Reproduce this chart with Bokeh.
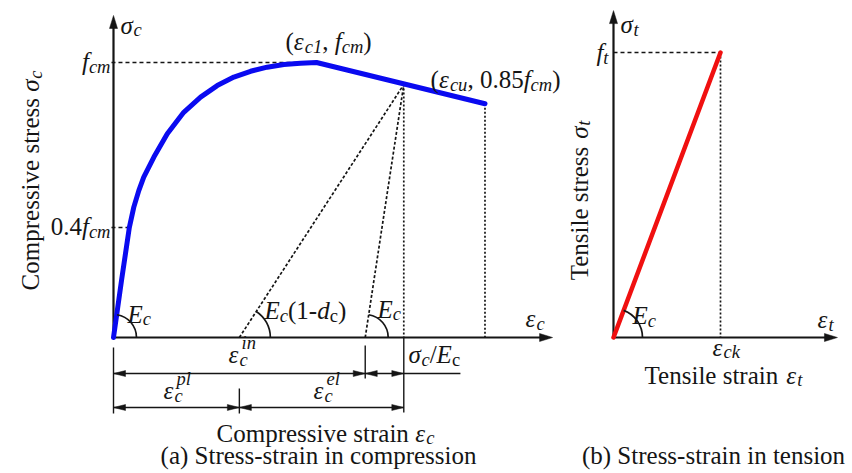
from math import atan2, pi

from bokeh.core.properties import field, value
from bokeh.embed import file_html
from bokeh.models import ColumnDataSource, Range1d
from bokeh.plotting import figure
from bokeh.resources import INLINE

# ---------------------------------------------------------------------------
# Data (strain normalised by eps_c1 / eps_ck, stress normalised by f_cm / f_t)
# ---------------------------------------------------------------------------
comp_strain = [0.0, 0.040, 0.078, 0.100, 0.125, 0.149, 0.199, 0.265, 0.346,
               0.429, 0.511, 0.593, 0.675, 0.757, 0.839, 0.921, 1.0, 1.83]
comp_stress = [0.0, 0.210, 0.40, 0.474, 0.535, 0.583, 0.656, 0.741, 0.819,
               0.874, 0.916, 0.947, 0.968, 0.983, 0.993, 0.997, 1.0, 0.85]

eps_c1, f_cm = 1.0, 1.0          # peak point
eps_cu, sig_cu = 1.83, 0.85      # end of descending branch
stress_ticks = [1.0, 0.4]        # f_cm, 0.4 f_cm
eps_unl, sig_unl = 1.43, 0.92    # unloading point
eps_pl = 0.62                    # plastic strain (damaged unloading)
eps_in = 1.24                    # inelastic strain (undamaged unloading)

tens_strain = [0.0, 1.0]         # 0 .. eps_ck
tens_stress = [0.0, 1.0]         # 0 .. f_t
eps_ck, f_t = 1.0, 1.0

# ---------------------------------------------------------------------------
# Canvas and coordinate systems
# ---------------------------------------------------------------------------
W, H = 852, 473
FS = 25                      # base font size (px)
FONT = "Liberation Serif"
INK = "#151515"
RAISE = 8                    # baseline correction for the SVG text (px)

# pixels per unit and origin position for each panel
SXL, SYL, OXL, OYL = 203.0, 275.0, 113.0, 337.0
SXR, SYR, OXR, OYR = 107.0, 285.0, 613.0, 337.0
SCALE = {"L": (SXL, SYL), "R": (SXR, SYR)}

p = figure(width=W, height=H, output_backend="svg", toolbar_location=None,
           x_axis_type=None, y_axis_type=None, min_border=0,
           outline_line_color=None, background_fill_color="white",
           border_fill_color="white",
           x_range=Range1d(-OXL / SXL, (W - OXL) / SXL),
           y_range=Range1d((OYL - H) / SYL, OYL / SYL))
p.extra_x_ranges = {"tx": Range1d(-OXR / SXR, (W - OXR) / SXR)}
p.extra_y_ranges = {"ty": Range1d((OYR - H) / SYR, OYR / SYR)}


def rng(panel):
    return {} if panel == "L" else {"x_range_name": "tx", "y_range_name": "ty"}


def seg(panel, x0, y0, x1, y1, width=1.5, dash="solid", color=INK):
    p.segment(x0=[x0], y0=[y0], x1=[x1], y1=[y1], line_color=color,
              line_width=width, line_dash=dash, **rng(panel))


def head(panel, x, y, direction, length=12, half=3.0):
    """Filled arrow head whose tip sits at (x, y)."""
    sx, sy = SCALE[panel]
    if direction == "right":
        xs = [x, x - length / sx, x - length / sx]
        ys = [y, y + half / sy, y - half / sy]
    elif direction == "left":
        xs = [x, x + length / sx, x + length / sx]
        ys = [y, y + half / sy, y - half / sy]
    else:  # up
        xs = [x, x - half / sx, x + half / sx]
        ys = [y, y - length / sy, y - length / sy]
    p.patch(xs, ys, fill_color=INK, line_color=INK, line_width=0.5, **rng(panel))


def angle_arc(panel, x, y, r, x_to, y_to):
    sx, sy = SCALE[panel]
    ang = atan2((y_to - y) * sy, (x_to - x) * sx)
    p.arc(x=[x], y=[y], radius=r, radius_units="screen", start_angle=0,
          end_angle=ang, line_color=INK, line_width=1.7, **rng(panel))


# ---------------------------------------------------------------------------
# Math-style labels built from pieces (italic symbols, sub/superscripts)
# ---------------------------------------------------------------------------
REG = {" ": 250, "(": 333, ")": 333, ",": 250, ".": 250, "-": 333, "/": 278,
       "a": 444, "b": 500, "c": 444, "d": 500, "e": 444, "f": 333, "g": 500,
       "h": 500, "i": 278, "k": 500, "l": 278, "m": 778, "n": 500, "o": 500,
       "p": 500, "r": 333, "s": 389, "t": 278, "u": 500, "v": 500,
       "C": 667, "E": 611, "S": 556, "T": 611, "σ": 540, "ε": 440}
ITA = {"a": 500, "c": 444, "d": 500, "e": 444, "f": 278, "i": 278, "k": 444,
       "l": 278, "m": 722, "n": 500, "p": 500, "t": 278, "u": 500, "E": 611,
       "1": 500, "σ": 520, "ε": 440}


def text_w(s, italic, size):
    table = ITA if italic else REG
    return sum(table.get(ch, REG.get(ch, 500)) for ch in s) * size / 1000.0


labels = {"L": {"x": [], "y": [], "text": [], "angle": [], "size": [], "style": []},
          "R": {"x": [], "y": [], "text": [], "angle": [], "size": [], "style": []}}


def mlabel(panel, x, y, parts, align="left", vertical=False, size=FS):
    sx, sy = SCALE[panel]
    laid, pos, last_start = [], 0.0, 0.0
    for txt, ital, role in parts:
        fs = size if role == "n" else size * 0.74
        w = text_w(txt, ital, fs)
        if role == "over":          # superscript stacked above a subscript
            start = last_start + 0.08 * size
            pos = max(pos, start + w)
        else:
            start = pos
            pos += w
        shift = {"n": 0.0, "sub": 0.2 * size, "sup": -0.42 * size,
                 "over": -0.45 * size}[role] - RAISE
        laid.append((txt, ital, fs, start, shift))
        last_start = start
    off = {"left": 0.0, "center": -pos / 2.0, "right": -pos}[align]
    d = labels[panel]
    for txt, ital, fs, start, shift in laid:
        a = start + off
        if vertical:
            d["x"].append(x + shift / sx)
            d["y"].append(y + a / sy)
            d["angle"].append(pi / 2)
        else:
            d["x"].append(x + a / sx)
            d["y"].append(y - shift / sy)
            d["angle"].append(0.0)
        d["text"].append(txt)
        d["size"].append(f"{fs:.1f}px")
        d["style"].append("italic" if ital else "normal")


# ---------------------------------------------------------------------------
# (a) Compression
# ---------------------------------------------------------------------------
L = "L"
y_top_l = 1.171
x_end_l = 2.163
seg(L, 0, 0, 0, y_top_l - 10 / SYL, width=2.2)
head(L, 0, y_top_l, "up", length=13, half=4)
seg(L, 0, 0, x_end_l - 10 / SXL, 0, width=2.2)
head(L, x_end_l, 0, "right", length=13, half=4)

# reference lines to the stress levels
seg(L, -0.01, stress_ticks[0], eps_c1, f_cm, width=1.3, dash="4 3")
seg(L, -0.01, stress_ticks[1], comp_strain[2], comp_stress[2], width=1.3, dash="4 3")

# unloading paths and projections
seg(L, eps_pl, 0, eps_unl, sig_unl, width=1.7, dash="3 2")
seg(L, eps_in, 0, eps_unl, sig_unl, width=1.7, dash="3 2")
seg(L, eps_unl, sig_unl, eps_unl, 0, width=1.7, dash="2 2")
seg(L, eps_cu, sig_cu, eps_cu, 0, width=1.7, dash="2 2")

# stress-strain curve
p.line(comp_strain, comp_stress, line_color="#0a0af0", line_width=5,
       line_join="round", line_cap="round")

# angle marks
angle_arc(L, 0, 0, 23, comp_strain[3], comp_stress[3])
angle_arc(L, eps_pl, 0, 31, eps_unl, sig_unl)
angle_arc(L, eps_in, 0, 23, eps_unl, sig_unl)

# dimension lines under the strain axis
dim1, dim2 = -0.131, -0.2545
seg(L, 0, -0.036, 0, -0.276, width=1.4)
seg(L, eps_in, -0.029, eps_in, -0.149, width=1.4)
seg(L, eps_pl, -0.185, eps_pl, -0.276, width=1.4)
seg(L, eps_unl, 0, eps_unl, -0.273, width=1.4)
seg(L, 0, dim1, 1.709, dim1, width=1.4)
seg(L, 0, dim2, eps_unl, dim2, width=1.4)
for xx, dd in [(0, "left"), (eps_in, "right"), (eps_in, "left"), (eps_unl, "right")]:
    head(L, xx, dim1, dd)
for xx, dd in [(0, "left"), (eps_pl, "right"), (eps_pl, "left"), (eps_unl, "right")]:
    head(L, xx, dim2, dd)

# labels
mlabel(L, 0.034, 1.107, [("σ", True, "n"), ("c", True, "sub")])
mlabel(L, -0.015, f_cm - 7 / SYL, [("f", True, "n"), ("cm", True, "sub")], align="right")
mlabel(L, -0.015, stress_ticks[1] - 7 / SYL,
       [("0.4", False, "n"), ("f", True, "n"), ("cm", True, "sub")], align="right")
mlabel(L, 0.847, 1.047, [("(", False, "n"), ("ε", True, "n"), ("c1", True, "sub"),
                         (", ", False, "n"), ("f", True, "n"), ("cm", True, "sub"),
                         (")", False, "n")])
mlabel(L, 1.562, 0.909, [("(", False, "n"), ("ε", True, "n"), ("cu", True, "sub"),
                         (", 0.85", False, "n"), ("f", True, "n"), ("cm", True, "sub"),
                         (")", False, "n")])
mlabel(L, 0.069, 0.055, [("E", True, "n"), ("c", True, "sub")])
mlabel(L, 0.744, 0.069, [("E", True, "n"), ("c", True, "sub"), ("(1-", False, "n"),
                         ("d", True, "n"), ("c", False, "sub"), (")", False, "n")])
mlabel(L, 1.300, 0.073, [("E", True, "n"), ("c", True, "sub")])
mlabel(L, 2.030, 0.040, [("ε", True, "n"), ("c", True, "sub")])
mlabel(L, 0.567, -0.091, [("ε", True, "n"), ("c", True, "sub"), ("in", True, "over")])
mlabel(L, 0.246, -0.222, [("ε", True, "n"), ("c", True, "sub"), ("pl", True, "over")])
mlabel(L, 0.985, -0.222, [("ε", True, "n"), ("c", True, "sub"), ("el", True, "over")])
mlabel(L, 1.453, -0.091, [("σ", True, "n"), ("c", True, "sub"), ("/", False, "n"),
                          ("E", True, "n"), ("c", False, "sub")])
mlabel(L, -0.369, 0.571, [("Compressive stress ", False, "n"), ("σ", True, "n"),
                          ("c", True, "sub")], align="center", vertical=True)
mlabel(L, 1.044, -0.378, [("Compressive strain ", False, "n"), ("ε", True, "n"),
                          ("c", True, "sub")], align="center")
mlabel(L, 1.010, -0.458, [("(a) Stress-strain in compression", False, "n")], align="center")

# ---------------------------------------------------------------------------
# (b) Tension
# ---------------------------------------------------------------------------
R = "R"
y_top_r = 1.147
x_end_r = 2.093
seg(R, 0, 0, 0, y_top_r - 10 / SYR, width=2.2)
head(R, 0, y_top_r, "up", length=13, half=4)
seg(R, 0, 0, x_end_r - 10 / SXR, 0, width=2.2)
head(R, x_end_r, 0, "right", length=13, half=4)

seg(R, 0, f_t, eps_ck, f_t, width=1.3, dash="4 3")
seg(R, eps_ck, f_t, eps_ck, 0, width=1.7, dash="2 2")
p.line(tens_strain, tens_stress, line_color="#f01010", line_width=4.5,
       line_cap="round", **rng(R))
angle_arc(R, 0, 0, 29, tens_strain[1], tens_stress[1])

mlabel(R, 0.065, 1.070, [("σ", True, "n"), ("t", True, "sub")])
mlabel(R, -0.047, f_t - 8 / SYR, [("f", True, "n"), ("t", True, "sub")], align="right")
mlabel(R, 0.178, 0.049, [("E", True, "n"), ("c", True, "sub")])
mlabel(R, 1.907, 0.035, [("ε", True, "n"), ("t", True, "sub")])
mlabel(R, 0.925, -0.063, [("ε", True, "n"), ("ck", True, "sub")])
mlabel(R, -0.243, 0.481, [("Tensile stress ", False, "n"), ("σ", True, "n"),
                          ("t", True, "sub")], align="center", vertical=True)
mlabel(R, 1.028, -0.161, [("Tensile strain ", False, "n"), ("ε", True, "n"),
                          ("t", True, "sub")], align="center")
mlabel(R, 0.935, -0.442, [("(b) Stress-strain in tension", False, "n")], align="center")

# ---------------------------------------------------------------------------
# Text renderers
# ---------------------------------------------------------------------------
for panel in ("L", "R"):
    src = ColumnDataSource(labels[panel])
    p.text(x="x", y="y", text="text", angle="angle", source=src,
           text_font=value(FONT), text_font_size=field("size"),
           text_font_style=field("style"), text_color=INK,
           text_align="left", text_baseline="alphabetic", **rng(panel))

open("out.html", "w").write(file_html(p, INLINE))
